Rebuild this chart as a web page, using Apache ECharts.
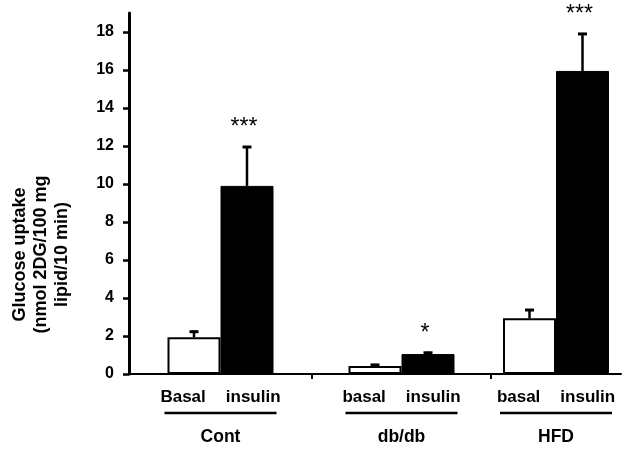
<!DOCTYPE html>
<html><head><meta charset="utf-8">
<script src="https://cdn.jsdelivr.net/npm/echarts@6/dist/echarts.min.js"></script>
<style>html,body{margin:0;padding:0;background:#fff}#c{width:637px;height:450px}</style>
</head><body><div id="c"></div>
<script>
// ---- data ----
const groups = ['Cont', 'db/db', 'HFD'];
const basalLabels = ['Basal', 'basal', 'basal'];
const insulinLabels = ['insulin', 'insulin', 'insulin'];
const basalValues = [1.93, 0.42, 2.93];
const basalUpper = [2.28, 0.53, 3.42];
const insulinValues = [9.9, 1.05, 15.95];
const insulinUpper = [12.0, 1.17, 17.95];
const insulinStars = ['***', '*', '***'];
const yTicks = [0, 2, 4, 6, 8, 10, 12, 14, 16, 18];
const yTitle = 'Glucose uptake\n(nmol 2DG/100 mg\nlipid/10 min)';

// ---- layout ----
const FONT = '"Liberation Sans", Arial, Helvetica, sans-serif';
const gridDefs = [{ left: 129, width: 183 }, { left: 312, width: 179 }, { left: 491, width: 130 }];
const BAR_W = 53;

const grid = gridDefs.map(g => ({ left: g.left, width: g.width, top: 13, bottom: 76 }));

const xAxis = groups.map((name, i) => ({
  type: 'category', gridIndex: i, data: [name], boundaryGap: true,
  axisLine: { show: true, lineStyle: { color: '#000', width: 2 } },
  axisTick: { show: i === 1, length: 5, lineStyle: { color: '#000', width: 2 } },
  axisLabel: {
    interval: 0, margin: 13, color: '#000',
    formatter: () => `{c|${basalLabels[i]}}{gap| }{c|${insulinLabels[i]}}\n{u| }\n{g|${name}}`,
    rich: {
      c: { fontFamily: FONT, fontSize: 17, fontWeight: 'bold', color: '#000', lineHeight: 20 },
      gap: { width: 20, lineHeight: 20 },
      u: { width: 112, height: 2.5, backgroundColor: '#000', lineHeight: 12, fontSize: 1 },
      g: { fontFamily: FONT, fontSize: 17.5, fontWeight: 'bold', color: '#000', lineHeight: 36 }
    }
  },
  splitLine: { show: false }
}));

const yAxis = groups.map((_, i) => ({
  type: 'value', gridIndex: i, min: 0, max: 19, show: i === 0,
  axisLine: { show: true, lineStyle: { color: '#000', width: 3 } },
  axisTick: { show: true, customValues: yTicks, length: 6, lineStyle: { color: '#000', width: 2.5 } },
  axisLabel: { customValues: yTicks, margin: 15, color: '#000', fontFamily: FONT, fontSize: 16, fontWeight: 'bold' },
  splitLine: { show: false },
  name: i === 0 ? yTitle : '',
  nameLocation: 'middle', nameRotate: 90, nameGap: 56,
  nameTextStyle: { fontFamily: FONT, fontSize: 18, fontWeight: 'bold', color: '#000', lineHeight: 21, padding: [0, 122, 0, 0] }
}));

function errorSeries(i, values, uppers, sign, stars) {
  return {
    type: 'custom', xAxisIndex: i, yAxisIndex: i, z: 5,
    data: [[0, values[i], uppers[i]]],
    renderItem: (params, api) => {
      const base = api.coord([0, api.value(1)]);
      const top = api.coord([0, api.value(2)]);
      const x = base[0] + sign * BAR_W / 2;
      const children = [
        { type: 'line', shape: { x1: x, y1: base[1], x2: x, y2: top[1] }, style: { stroke: '#000', lineWidth: 2.5 } },
        { type: 'line', shape: { x1: x - 4.5, y1: top[1] + 1, x2: x + 4.5, y2: top[1] + 1 }, style: { stroke: '#000', lineWidth: 3 } }
      ];
      if (stars && stars[i]) {
        children.push({ type: 'text', x: x - 3, y: top[1] - 18,
          style: { text: stars[i], font: 'normal 23px ' + FONT, fill: '#000', align: 'center', verticalAlign: 'middle' } });
      }
      return { type: 'group', children };
    }
  };
}

const series = [];
groups.forEach((_, i) => {
  series.push({
    type: 'bar', name: 'basal', xAxisIndex: i, yAxisIndex: i, data: [basalValues[i]],
    barWidth: BAR_W, barGap: '0%',
    itemStyle: { color: '#fff', borderColor: '#000', borderWidth: 2 }
  });
  series.push({
    type: 'bar', name: 'insulin', xAxisIndex: i, yAxisIndex: i, data: [insulinValues[i]],
    barWidth: BAR_W, barGap: '0%',
    itemStyle: { color: '#000', borderColor: '#000', borderWidth: 1 }
  });
  series.push(errorSeries(i, basalValues, basalUpper, -1, null));
  series.push(errorSeries(i, insulinValues, insulinUpper, 1, insulinStars));
});

const chart = echarts.init(document.getElementById('c'), null, { renderer: 'canvas' });
chart.setOption({ backgroundColor: '#fff', animation: false, grid, xAxis, yAxis, series });
</script>
</body></html>
